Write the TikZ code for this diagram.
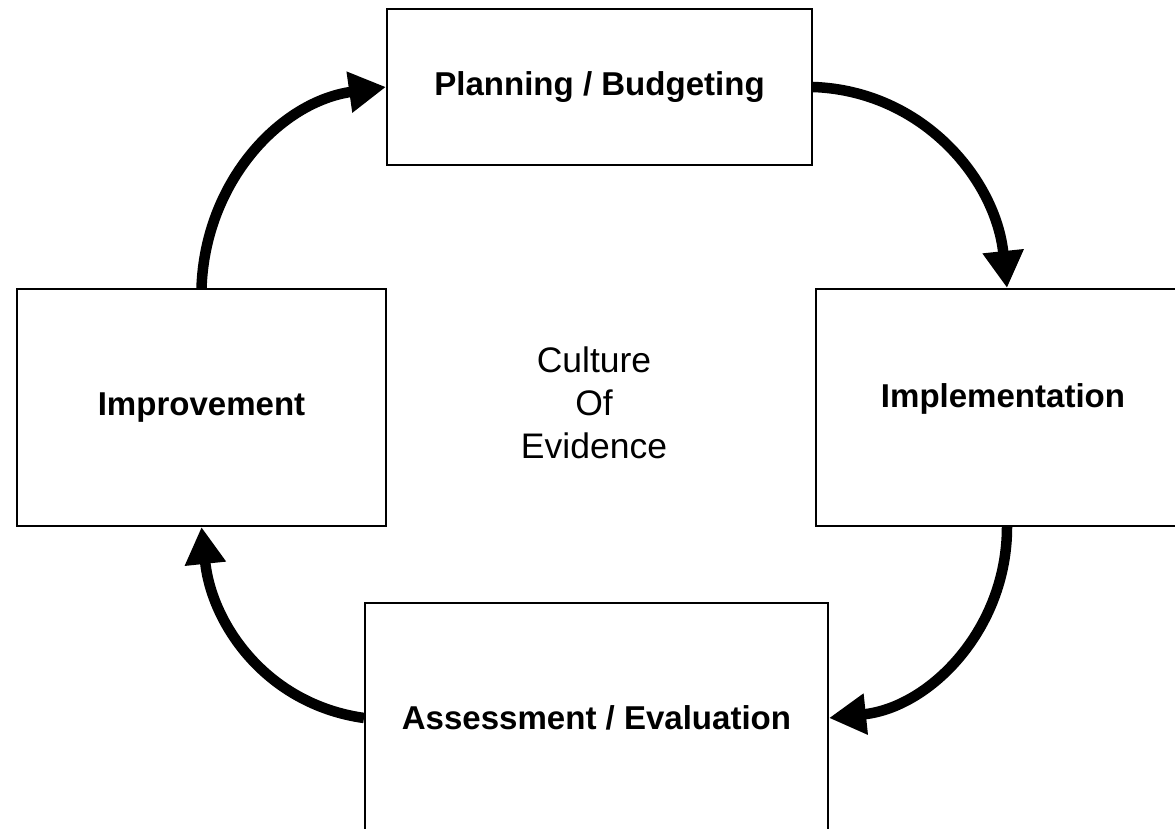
\documentclass[tikz,border=0pt]{standalone}
\usepackage{fontspec}
\setmainfont{Liberation Sans}
\usetikzlibrary{positioning,arrows.meta}

\begin{document}
\begin{tikzpicture}[
    every node/.style={font=\fontsize{18.8}{22}\selectfont},
    stagebox/.style={draw, line width=0.04cm, inner sep=0pt, font=\fontsize{18.8}{22}\selectfont\bfseries},
    cyclearrow/.style={line width=0.21cm, -{Triangle[length=0.74cm,width=0.78cm]}, looseness=1}
  ]
  %----- page frame -----
  \useasboundingbox (0,0) rectangle (23.5,16.58);

  %----- the four stages -----
  \node[stagebox, minimum width=8.5cm,  minimum height=3.12cm] (plan)    at (11.99,14.84) {Planning / Budgeting};
  \node[stagebox, minimum width=7.48cm, minimum height=4.74cm] (impl)    at (20.06,8.43)  {\raisebox{0.48cm}{Implementation}};
  \node[stagebox, minimum width=9.26cm, minimum height=4.6cm]  (assess)  at (11.93,2.22)  {Assessment / Evaluation};
  \node[stagebox, minimum width=7.38cm, minimum height=4.74cm] (improve) at (4.03,8.43)   {Improvement};

  % middle text
  \node[align=center, font=\fontsize{20.2}{24.6}\selectfont] (core) at (11.88,8.52) {Culture\\Of\\Evidence};

  %----- arrows round the cycle (near quarter circles) -----
  \draw[cyclearrow] (plan.east)     to[out=-2,  in=96]  ([xshift=0.08cm]impl.north);
  \draw[cyclearrow] ([xshift=0.08cm]impl.south) to[out=-90, in=6]   (assess.east);
  \draw[cyclearrow] (assess.west)   to[out=172, in=-84] (improve.south);
  \draw[cyclearrow] (improve.north) to[out=88,  in=188] (plan.west);
\end{tikzpicture}
\end{document}
